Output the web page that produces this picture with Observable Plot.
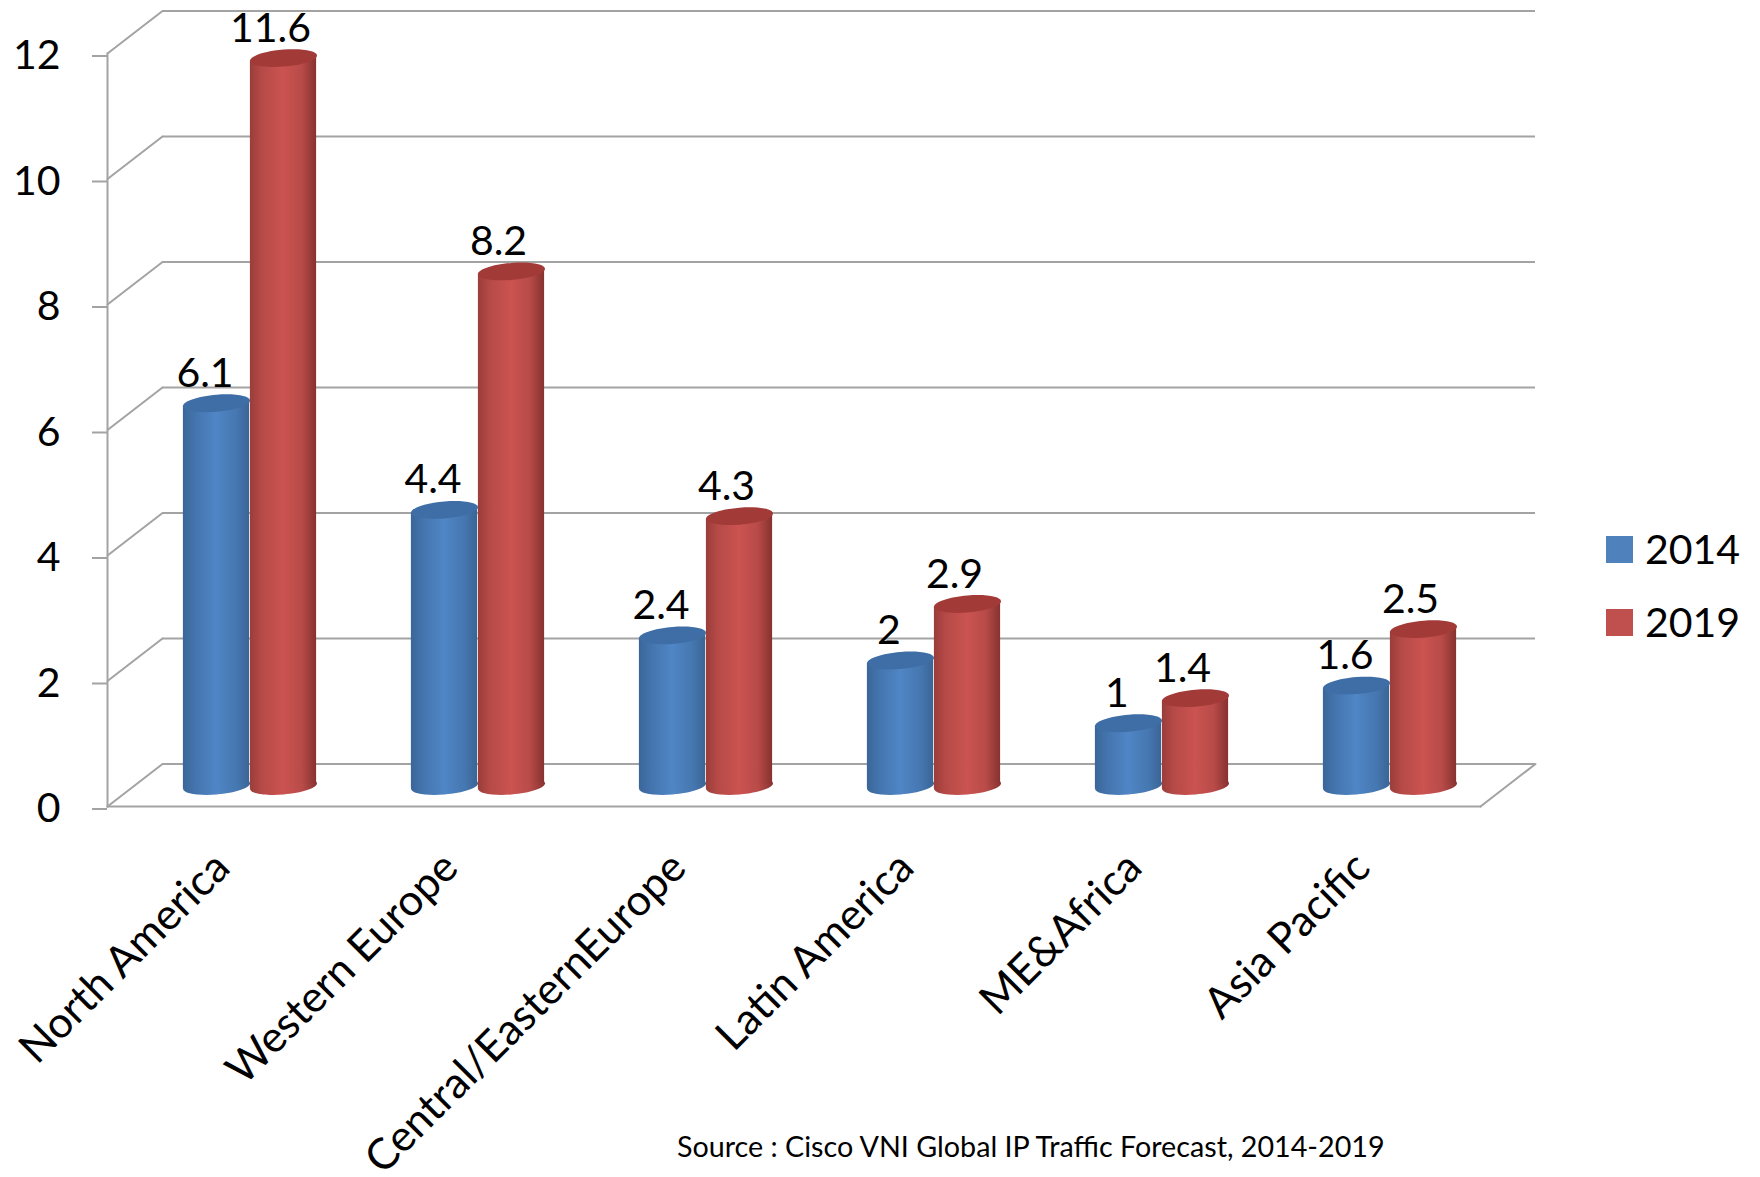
<!DOCTYPE html>
<html>
<head>
<meta charset="utf-8">
<script src="https://cdn.jsdelivr.net/npm/d3@7"></script>
<script src="https://cdn.jsdelivr.net/npm/@observablehq/plot@0.6"></script>
<style>
  html, body { margin: 0; background: #fff; }
  #chart { position: relative; width: 1760px; height: 1177px; overflow: hidden; font-family: Lato, sans-serif; color: #000; }
  #chart svg { display: block; position: absolute; left: 0; top: 0; overflow: visible; }
  .key { position: absolute; left: 1606px; display: flex; align-items: center; font-size: 41px; line-height: 40px; }
  .key i { display: block; width: 27px; height: 27px; margin-right: 12px; }
  #source { position: absolute; left: 677px; top: 1129px; font-size: 28.7px; white-space: nowrap; }
</style>
</head>
<body>
<div id="chart"></div>
<script>
const regions = ["North America", "Western Europe", "Central/EasternEurope", "Latin America", "ME&Africa", "Asia Pacific"];
const values2014 = [6.1, 4.4, 2.4, 2, 1, 1.6];
const values2019 = [11.6, 8.2, 4.3, 2.9, 1.4, 2.5];
const yTicks = [0, 2, 4, 6, 8, 10, 12];
const seriesNames = ["2014", "2019"];
const seriesColors = ["#4f81bd", "#c0504d"];
const sourceNote = "Source : Cisco VNI Global IP Traffic Forecast, 2014-2019";

// Projection of the fake 3D box: the back wall sits up and to the right of the front plane.
const depthX = 55, depthY = -42.5;
const midX = 25.5, midY = -20.5;
const barWidth = 67, ellipseRy = 8.5, tilt = -0.08;
const gridColor = "#a3a3a3";

const rows2014 = regions.map((region, i) => ({region, value: values2014[i]}));
const rows2019 = regions.map((region, i) => ({region, value: values2019[i]}));

// Flat ellipse used for the caps of the cylinders, slightly sheared to follow the view angle.
const capSymbol = {
  draw(ctx) {
    const a = barWidth / 2, b = ellipseRy, c = 0.5523;
    const p = (x, y) => [x, y + tilt * x];
    ctx.moveTo(...p(-a, 0));
    ctx.bezierCurveTo(...p(-a, -c * b), ...p(-c * a, -b), ...p(0, -b));
    ctx.bezierCurveTo(...p(c * a, -b), ...p(a, -c * b), ...p(a, 0));
    ctx.bezierCurveTo(...p(a, c * b), ...p(c * a, b), ...p(0, b));
    ctx.bezierCurveTo(...p(-c * a, b), ...p(-a, c * b), ...p(-a, 0));
    ctx.closePath();
  }
};

// Edge of the box running from the front plane to the back wall.
const depthEdge = {
  draw(ctx, l) { ctx.moveTo(0, 0); ctx.lineTo(0, -l); }
};
const depthLength = Math.hypot(depthX, depthY);
const depthAngle = Math.atan2(depthX, -depthY) * 180 / Math.PI;

// Horizontal shading that gives each bar its round look.
function gradients() {
  const defs = d3.create("svg:defs");
  const stops = {
    body0: [["0", "#3a6699"], ["0.18", "#4474ad"], ["0.5", "#4f86c6"], ["0.82", "#4576af"], ["1", "#3a6495"]],
    body1: [["0", "#9a3d3a"], ["0.18", "#b64a47"], ["0.5", "#cb5350"], ["0.78", "#b84b48"], ["1", "#873230"]]
  };
  for (const [id, list] of Object.entries(stops)) {
    const g = defs.append("linearGradient").attr("id", id).attr("x1", 0).attr("x2", 1).attr("y1", 0).attr("y2", 0);
    for (const [offset, color] of list) g.append("stop").attr("offset", offset).attr("stop-color", color);
  }
  return defs.node();
}

// Shears the bar rectangles so their ends meet the tilted caps.
function shearBars(index, scales, values, dimensions, context, next) {
  const g = next(index, scales, values, dimensions, context);
  for (const rect of g.querySelectorAll("rect")) {
    const cx = +rect.getAttribute("x") + +rect.getAttribute("width") / 2;
    rect.setAttribute("transform", `matrix(1 ${tilt} 0 1 0 ${-tilt * cx})`);
  }
  return g;
}

// One set of cylinders: base cap, body and top cap.
function cylinders(rows, sideOffset, bodyFill, capFill) {
  const dx = midX + sideOffset, dy = midY;
  const inset = 80.9;
  return [
    Plot.dot(rows, {x: "region", y: () => 0, dx, dy, symbol: capSymbol, r: 10, fill: bodyFill}),
    Plot.barY(rows, {x: "region", y: "value", dx, dy, insetLeft: inset, insetRight: inset, fill: bodyFill, render: shearBars}),
    Plot.dot(rows, {x: "region", y: "value", dx, dy, symbol: capSymbol, r: 10, fill: capFill})
  ];
}

const plot = Plot.plot({
  width: 1760,
  height: 1177,
  marginLeft: 107,
  marginRight: 280,
  marginTop: 53,
  marginBottom: 371,
  style: {fontFamily: "Lato, sans-serif", background: "transparent", color: "#000"},
  x: {type: "band", domain: regions, padding: 0, label: null},
  y: {domain: [0, 12], label: null},
  marks: [
    gradients,
    Plot.ruleY(yTicks, {dx: depthX, dy: depthY, stroke: gridColor, strokeWidth: 2}),
    Plot.vector(yTicks, {y: d => d, frameAnchor: "left", anchor: "start", length: depthLength, rotate: depthAngle, shape: depthEdge, stroke: gridColor, strokeWidth: 2}),
    Plot.vector([0], {y: d => d, frameAnchor: "right", anchor: "start", length: depthLength, rotate: depthAngle, shape: depthEdge, stroke: gridColor, strokeWidth: 2}),
    Plot.frame({anchor: "left", stroke: gridColor, strokeWidth: 2}),
    Plot.frame({anchor: "bottom", stroke: gridColor, strokeWidth: 2}),
    Plot.axisY(yTicks, {tickSize: 15, tickPadding: 32, fontSize: 41, tickFormat: d => String(d), stroke: gridColor, strokeWidth: 2, fill: "#000", textStroke: "none", label: null, dy: 2.5}),
    Plot.axisX({tickSize: 0, tickRotate: -45, fontSize: 43, tickPadding: 40, textAnchor: "end", label: null, fill: "#000", dx: -2, dy: 14}),
    ...cylinders(rows2014, -33.5, "url(#body0)", "#3f6ea6"),
    ...cylinders(rows2019, 33.5, "url(#body1)", "#a23b38"),
    Plot.text(rows2014, {x: "region", y: "value", text: d => String(d.value), dx: -19.5, dy: -37, fontSize: 41, lineAnchor: "bottom", fill: "#000"}),
    Plot.text(rows2019, {x: "region", y: "value", text: d => String(d.value), dx: 46, dy: -37, fontSize: 41, lineAnchor: "bottom", fill: "#000"})
  ]
});

const chart = document.getElementById("chart");
chart.append(plot);

// Legend and source line sit beside and below the plot.
seriesNames.forEach((name, i) => {
  const key = document.createElement("div");
  key.className = "key";
  key.style.top = (529 + i * 73) + "px";
  const swatch = document.createElement("i");
  swatch.style.background = seriesColors[i];
  key.append(swatch, name);
  chart.append(key);
});
const source = document.createElement("div");
source.id = "source";
source.textContent = sourceNote;
chart.append(source);
</script>
</body>
</html>
